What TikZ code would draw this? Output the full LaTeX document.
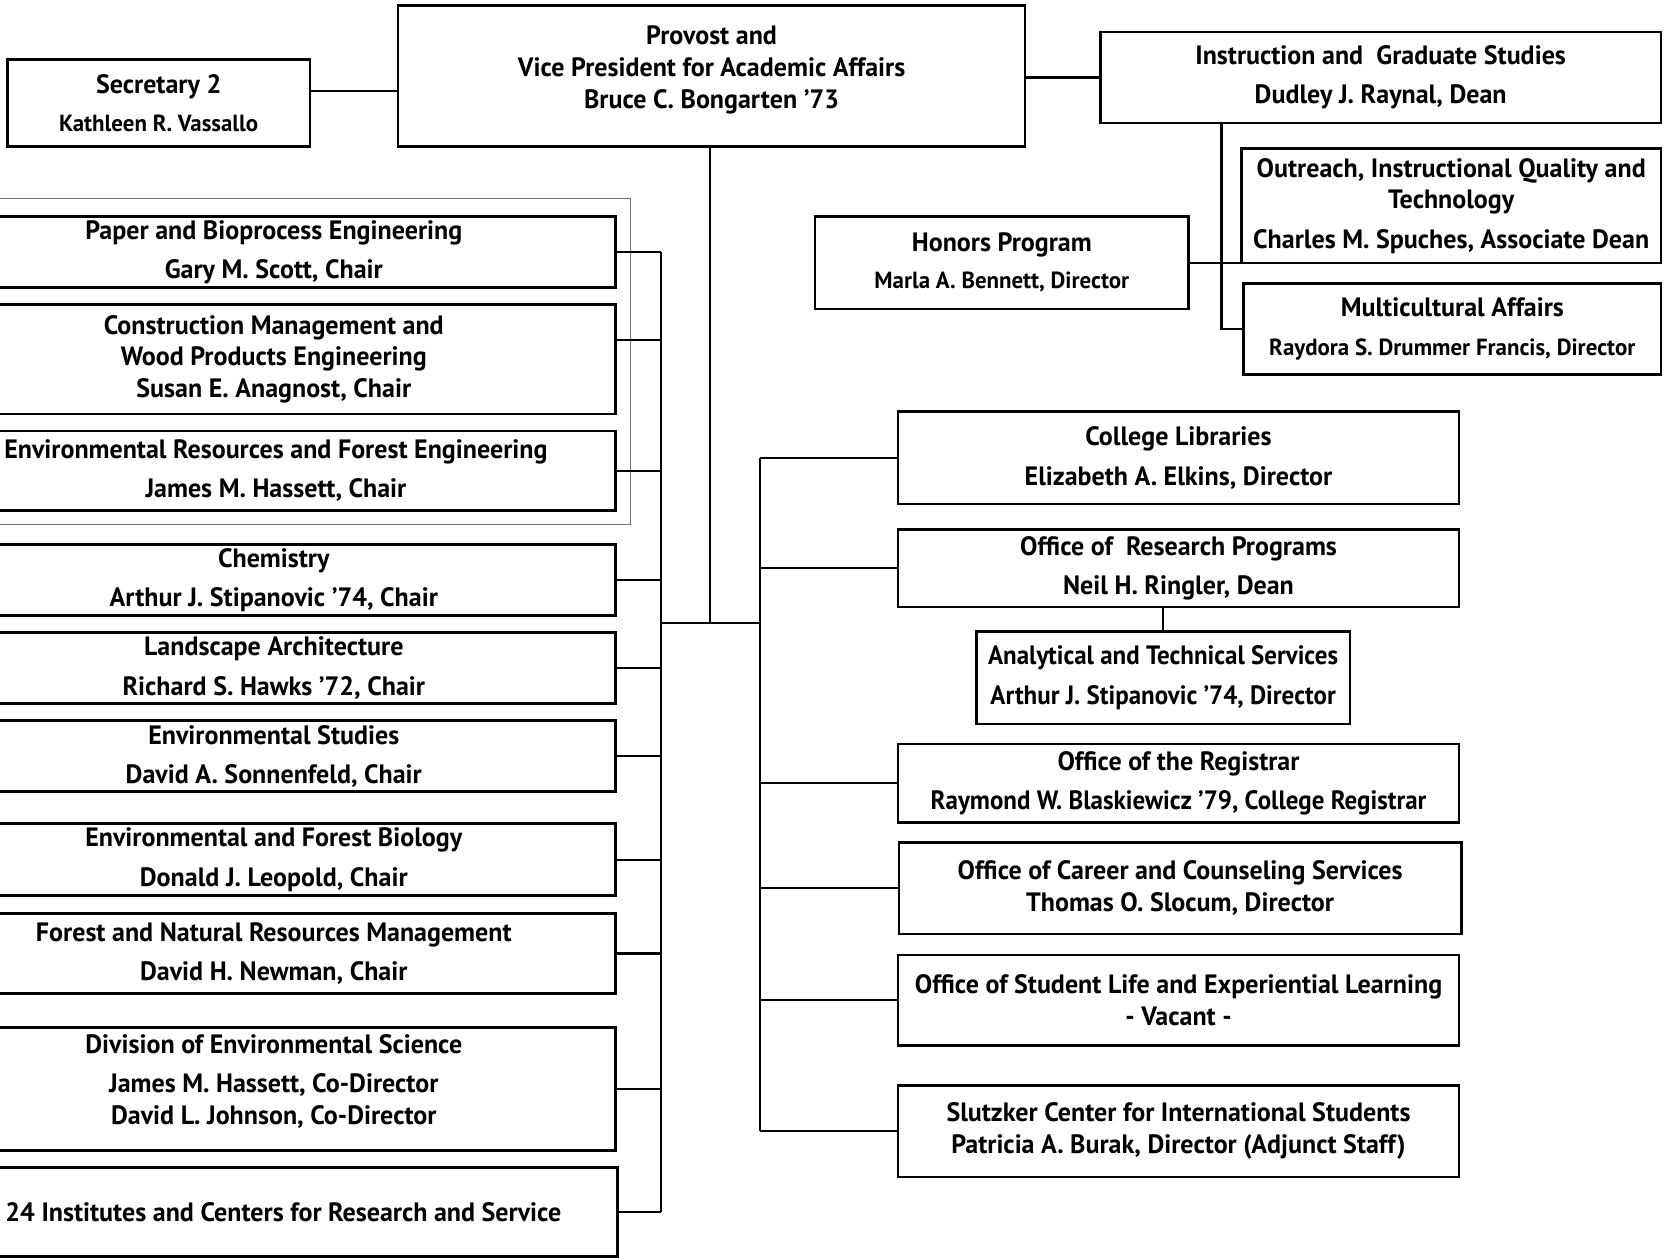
\documentclass[tikz,border=0pt]{standalone}
\usepackage{fontspec}
\usepackage{graphicx}
\setmainfont{PT Sans}[FakeStretch=0.98]
\usetikzlibrary{calc}
\newcommand\nm{\fontsize{11}{15}\selectfont}
\newcommand\sq[1]{\scalebox{0.96}[1]{#1}}
\tikzset{
  box/.style={draw, line width=1.2pt, inner sep=0pt, align=center,
    font=\fontsize{12.5}{15}\selectfont\bfseries},
  conn/.style={line width=1pt},
  frame/.style={draw=black!55, line width=0.6pt}
}
\newcommand\orgbox[6]{\node[box, minimum width={(#4-#2)*0.5pt}, minimum height={(#5-#3)*0.5pt}] (#1) at ({(#2+#4)/2},{(#3+#5)/2}) {#6};}
\begin{document}
\begin{tikzpicture}[x=0.5pt,y=-0.5pt]
\useasboundingbox (0,0) rectangle (1568,1185);
\clip (0,0) rectangle (1568,1185);
% top
\orgbox{prov}{375}{5}{966}{138}{Provost and\\Vice President for Academic Affairs\\Bruce C. Bongarten ’73\\[-7pt]\mbox{}}
\orgbox{sec}{7}{56}{292}{138}{Secretary 2\\[3pt]{\nm Kathleen R. Vassallo}}
\orgbox{ig}{1037}{30}{1565}{116}{Instruction and\ \ Graduate Studies\\[3.5pt]Dudley J. Raynal, Dean}
\orgbox{oiq}{1170}{140}{1565}{248}{Outreach, Instructional Quality and\\Technology\\[3.5pt]Charles M. Spuches, Associate Dean}
\orgbox{hon}{768}{204}{1120}{291}{Honors Program\\[2.5pt]{\nm Marla A. Bennett, Director}}
\orgbox{mc}{1172}{267}{1565}{353}{Multicultural Affairs\\[3pt]{\nm Raydora S. Drummer Francis, Director}}
% left frame
\draw[frame] (-20,187) rectangle (594,494);
% left column
\orgbox{pbe}{-64}{204}{580}{271}{Paper and Bioprocess Engineering\\[3.5pt]Gary M. Scott, Chair}
\orgbox{cme}{-64}{287}{580}{390}{Construction Management and\\Wood Products Engineering\\Susan E. Anagnost, Chair}
\orgbox{erfe}{-60}{406}{580}{481}{Environmental Resources and Forest Engineering\\[3.5pt]James M. Hassett, Chair}
\orgbox{chem}{-64}{513}{580}{580}{Chemistry\\[3.5pt]Arthur J. Stipanovic ’74, Chair}
\orgbox{la}{-64}{596}{580}{663}{Landscape Architecture\\[3.5pt]Richard S. Hawks ’72, Chair}
\orgbox{es}{-64}{679}{580}{746}{Environmental Studies\\[3.5pt]David A. Sonnenfeld, Chair}
\orgbox{efb}{-64}{776}{580}{844}{Environmental and Forest Biology\\[3.5pt]Donald J. Leopold, Chair}
\orgbox{fnrm}{-64}{861}{580}{936}{Forest and Natural Resources Management\\[3.5pt]David H. Newman, Chair}
\orgbox{des}{-64}{968}{580}{1084}{Division of Environmental Science\\[3.5pt]James M. Hassett, Co-Director\\David L. Johnson, Co-Director\\[-6pt]\mbox{}}
\orgbox{inst}{-48}{1100}{582}{1184}{24 Institutes and Centers for Research and Service}
% right column
\orgbox{cl}{846}{388}{1375}{475}{College Libraries\\[3.5pt]Elizabeth A. Elkins, Director}
\orgbox{orp}{846}{499}{1375}{572}{Office of\ \ Research Programs\\[3.5pt]Neil H. Ringler, Dean}
\orgbox{ats}{920}{595}{1272}{682}{\sq{Analytical and Technical Services}\\[3.5pt]\sq{Arthur J. Stipanovic ’74, Director}}
\orgbox{reg}{846}{701}{1375}{775}{Office of the Registrar\\[3.5pt]\sq{Raymond W. Blaskiewicz ’79, College Registrar}}
\orgbox{ocs}{847}{794}{1377}{880}{Office of Career and Counseling Services\\Thomas O. Slocum, Director}
\orgbox{osl}{846}{900}{1375}{985}{Office of Student Life and Experiential Learning\\- Vacant -}
\orgbox{scis}{846}{1023}{1375}{1109}{Slutzker Center for International Students\\Patricia A. Burak, Director (Adjunct Staff)}
% bus coordinates
\coordinate (lbx) at (623,587);
\coordinate (rbx) at (716,587);
\coordinate (igv) at (1151,116);
% top connectors
\draw[conn] ([yshift=5.75pt]sec.east) -- ([yshift=5.75pt]sec.east -| prov.west);
\draw[conn] (ig.west) -- (ig.west -| prov.east);
\draw[conn] (igv) |- (mc.west);
\draw[conn] (hon.east) -- (hon.east -| oiq.west);
\draw[conn] (prov.south -| 669,0) -- (lbx -| 669,0);
\draw[conn] (lbx) -- (rbx);
% left connectors
\draw[conn] (pbe.east) -- (pbe.east -| lbx);
\draw[conn] ([yshift=9.25pt]cme.east) -- ([yshift=9.25pt]cme.east -| lbx);
\draw[conn] (erfe.east) -- (erfe.east -| lbx);
\draw[conn] (chem.east) -- (chem.east -| lbx);
\draw[conn] (la.east) -- (la.east -| lbx);
\draw[conn] (es.east) -- (es.east -| lbx);
\draw[conn] (efb.east) -- (efb.east -| lbx);
\draw[conn] (fnrm.east) -- (fnrm.east -| lbx);
\draw[conn] (des.east) -- (des.east -| lbx);
\draw[conn] (inst.east) -- (inst.east -| lbx);
\draw[conn] (pbe.east -| lbx) -- (inst.east -| lbx);
% right connectors
\draw[conn] (cl.west) -- (cl.west -| rbx);
\draw[conn] (orp.west) -- (orp.west -| rbx);
\draw[conn] (reg.west) -- (reg.west -| rbx);
\draw[conn] (ocs.west) -- (ocs.west -| rbx);
\draw[conn] (osl.west) -- (osl.west -| rbx);
\draw[conn] (scis.west) -- (scis.west -| rbx);
\draw[conn] (cl.west -| rbx) -- (scis.west -| rbx);
\draw[conn] (ats.north) -- (ats.north |- orp.south);
\end{tikzpicture}
\end{document}
